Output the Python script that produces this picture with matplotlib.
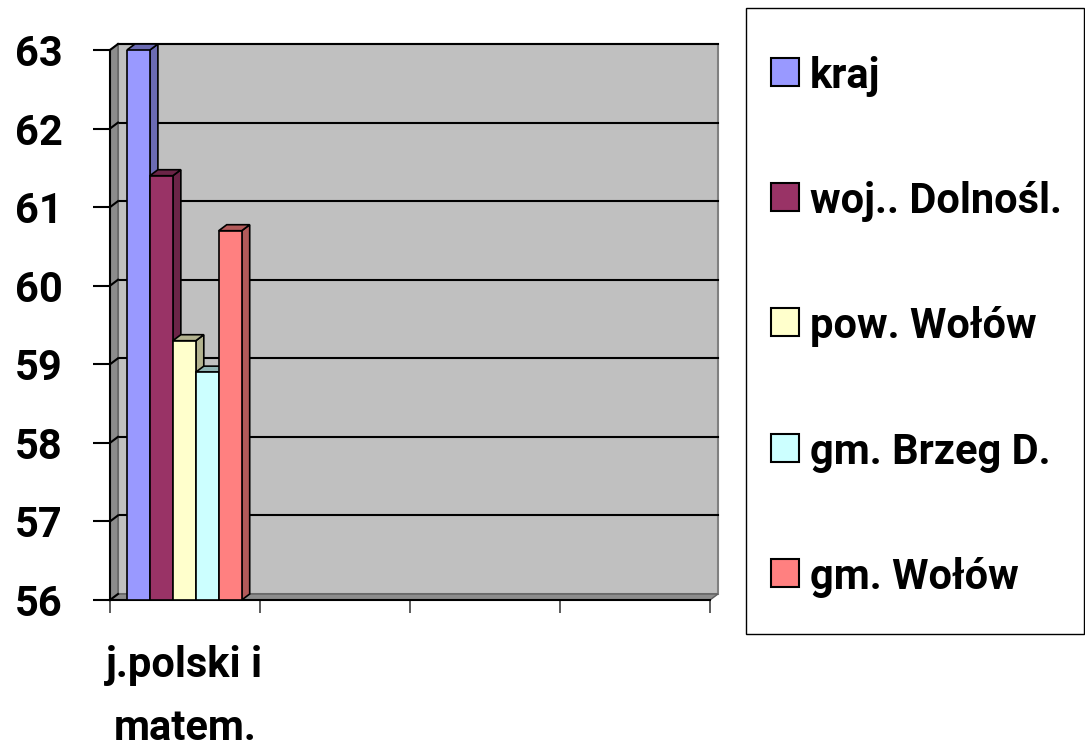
import matplotlib
matplotlib.use("Agg")
import matplotlib.pyplot as plt
from matplotlib.patches import Rectangle, Polygon
from matplotlib.transforms import ScaledTranslation, IdentityTransform
import numpy as np

# data
categories = ["j.polski i\nmatem.", "", "", ""]
series = ["kraj", "woj.. Dolnośl.", "pow. Wołów", "gm. Brzeg D.", "gm. Wołów"]
values = [63.0, 61.4, 59.3, 58.9, 60.7]
colors = ["#9999FF", "#993366", "#FFFFCC", "#CCFFFF", "#FF8080"]
side_colors = ["#6b6bb3", "#6b2447", "#b3b38f", "#8fb3b3", "#b35a5a"]
yticks = [56, 57, 58, 59, 60, 61, 62, 63]

plt.rcParams["font.family"] = ["Roboto", "DejaVu Sans"]
plt.rcParams["font.weight"] = "bold"

W, H = 1085, 749
fig = plt.figure(figsize=(W / 100, H / 100), dpi=100)
ax = fig.add_axes([110 / W, 149 / H, 600 / W, 550 / H])
ax.set_xlim(0, len(categories))
ax.set_ylim(56, 63)
ax.patch.set_visible(False)

# 3D depth offset (pixels)
dx, dy = 8, 6
off = ScaledTranslation(dx / 100, dy / 100, fig.dpi_scale_trans)
back = ax.transData + off

# back wall
ax.add_patch(Rectangle((0, 56), len(categories), 7, transform=back,
                       facecolor="#c0c0c0", edgecolor="#808080", lw=1.5, zorder=0, clip_on=False))
for v in yticks[1:]:
    ax.plot([0, len(categories)], [v, v], color="black", lw=1.5, transform=back, zorder=1, clip_on=False)


def to_px(pts):
    return ax.transData.transform(pts)


# left wall and floor
fl = to_px([(0, 56), (0, 63)])
ax.add_patch(Polygon([fl[0], fl[1], fl[1] + [dx, dy], fl[0] + [dx, dy]], closed=True,
                     transform=IdentityTransform(), facecolor="#8c8c8c", edgecolor="#606060",
                     lw=1, zorder=1, clip_on=False))
for v in yticks:
    p = to_px([(0, v)])[0]
    ax.plot([p[0], p[0] + dx], [p[1], p[1] + dy], color="black", lw=1.5,
            transform=IdentityTransform(), zorder=2, clip_on=False)
fb = to_px([(0, 56), (len(categories), 56)])
ax.add_patch(Polygon([fb[0], fb[1], fb[1] + [dx, dy], fb[0] + [dx, dy]], closed=True,
                     transform=IdentityTransform(), facecolor="#8c8c8c", edgecolor="#606060",
                     lw=1, zorder=1, clip_on=False))

# bars
bar_w = 0.153
x0 = 0.113
for i, (name, v) in enumerate(zip(series, values)):
    left = x0 + i * bar_w
    ax.bar(left, v - 56, bottom=56, width=bar_w, align="edge", color=colors[i],
           edgecolor="black", lw=1.2, zorder=5 + i)
    c = to_px([(left, 56), (left + bar_w, 56), (left + bar_w, v), (left, v)])
    side = [c[1], c[2], c[2] + [dx, dy], c[1] + [dx, dy]]
    top = [c[3], c[2], c[2] + [dx, dy], c[3] + [dx, dy]]
    ax.add_patch(Polygon(side, closed=True, transform=IdentityTransform(), facecolor=side_colors[i],
                         edgecolor="black", lw=1.2, zorder=4 + i, clip_on=False))
    ax.add_patch(Polygon(top, closed=True, transform=IdentityTransform(), facecolor=side_colors[i],
                         edgecolor="black", lw=1.2, zorder=4 + i, clip_on=False))

# axes
for s in ["top", "right"]:
    ax.spines[s].set_visible(False)
ax.spines["left"].set_linewidth(1.5)
ax.spines["bottom"].set_linewidth(1.5)
ax.spines["left"].set_zorder(3)
ax.set_yticks(yticks)
ax.set_yticklabels([str(t) for t in yticks], fontsize=30, fontweight="bold")
ax.tick_params(axis="y", length=12, width=1.5, pad=22)
ax.set_xticks(np.arange(len(categories) + 1))
ax.set_xticklabels([""] * (len(categories) + 1))
ax.tick_params(axis="x", length=9, width=1.2, color="#404040")
for i, cat in enumerate(categories):
    if cat:
        ax.text(i + 0.5, -0.082, cat, transform=ax.get_xaxis_transform(), ha="center", va="top",
                fontsize=30, fontweight="bold", linespacing=1.68)

# legend box (drawn by hand so the spacing matches)
fig.patches.append(Rectangle((746 / W, 1 - 634 / H), (1084 - 746) / W, (634 - 8) / H,
                             transform=fig.transFigure, facecolor="white", edgecolor="black",
                             lw=1, zorder=0))
row_y = [72, 197, 322, 448, 573]
for name, col, yy in zip(series, colors, row_y):
    fig.patches.append(Rectangle((771 / W, 1 - (yy + 14) / H), 28 / W, 28 / H,
                                 transform=fig.transFigure, facecolor=col, edgecolor="black",
                                 lw=1.5, zorder=2))
    fig.text(810 / W, 1 - yy / H, name, ha="left", va="center_baseline", fontsize=30,
             fontweight="bold")

fig.savefig("out.png", dpi=100)
